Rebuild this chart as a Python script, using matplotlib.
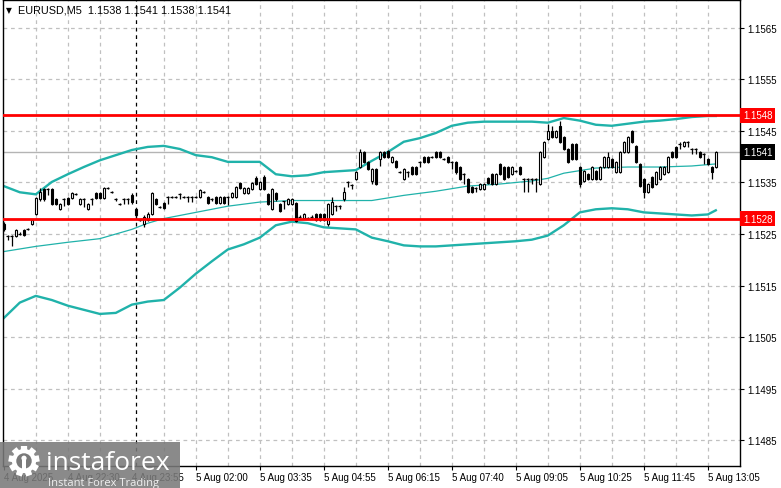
import matplotlib
matplotlib.use("Agg")
import matplotlib.pyplot as plt
import matplotlib.transforms as mtransforms
from matplotlib.patches import Rectangle, Circle
import numpy as np

# ---------------- data (EURUSD M5) ----------------
opens = [1.15269,1.15247,1.15247,1.15247,1.15251,1.15257,1.15259,1.15269,1.15288,1.15317,
         1.15337,1.15337,1.15337,1.15317,1.15298,1.15317,1.15319,1.15319,1.15327,1.15308,
         1.15317,1.15298,1.15317,1.15329,1.15329,1.15319,1.15339,1.15331,1.15317,1.15308,
         1.15317,1.15317,1.15325,1.15298,1.15278,1.15269,1.15278,1.15288,1.15317,1.15302,
         1.15310,1.15321,1.15321,1.15321,1.15327,1.15321,1.15321,1.15321,1.15321,1.15321,
         1.15331,1.15321,1.15317,1.15321,1.15310,1.15321,1.15321,1.15321,1.15321,1.15349,
         1.15329,1.15329,1.15337,1.15358,1.15337,1.15360,1.15327,1.15298,1.15329,1.15308,
         1.15314,1.15308,1.15308,1.15310,1.15284,1.15282,1.15282,1.15284,1.15288,1.15288,
         1.15288,1.15269,1.15288,1.15304,1.15304,1.15317,1.15351,1.15345,1.15356,1.15380,
         1.15409,1.15390,1.15353,1.15376,1.15395,1.15409,1.15411,1.15390,1.15392,1.15370,
         1.15356,1.15370,1.15380,1.15380,1.15390,1.15399,1.15399,1.15399,1.15409,1.15409,
         1.15395,1.15399,1.15390,1.15390,1.15380,1.15366,1.15356,1.15341,1.15339,1.15337,
         1.15337,1.15358,1.15366,1.15347,1.15386,1.15380,1.15380,1.15366,1.15372,1.15380,
         1.15356,1.15356,1.15356,1.15356,1.15347,1.15399,1.15434,1.15450,1.15438,1.15460,
         1.15438,1.15415,1.15425,1.15425,1.15380,1.15353,1.15366,1.15356,1.15372,1.15356,
         1.15380,1.15380,1.15395,1.15370,1.15370,1.15409,1.15409,1.15450,1.15421,1.15386,
         1.15356,1.15331,1.15360,1.15347,1.15356,1.15366,1.15370,1.15409,1.15419,1.15425,
         1.15421,1.15429,1.15415,1.15415,1.15409,1.15405,1.15395,1.15380,1.15380]
closes = [1.15259,1.15247,1.15247,1.15257,1.15251,1.15249,1.15259,1.15278,1.15319,1.15331,
          1.15317,1.15337,1.15308,1.15308,1.15308,1.15317,1.15308,1.15329,1.15327,1.15317,
          1.15317,1.15308,1.15317,1.15319,1.15319,1.15339,1.15339,1.15331,1.15317,1.15308,
          1.15317,1.15317,1.15312,1.15286,1.15278,1.15284,1.15288,1.15329,1.15308,1.15302,
          1.15300,1.15321,1.15321,1.15321,1.15327,1.15321,1.15321,1.15321,1.15321,1.15335,
          1.15331,1.15310,1.15317,1.15310,1.15321,1.15310,1.15321,1.15329,1.15341,1.15339,
          1.15339,1.15339,1.15349,1.15347,1.15351,1.15337,1.15308,1.15337,1.15317,1.15294,
          1.15314,1.15317,1.15317,1.15276,1.15284,1.15288,1.15282,1.15284,1.15278,1.15278,
          1.15278,1.15308,1.15312,1.15304,1.15304,1.15331,1.15351,1.15345,1.15370,1.15409,
          1.15390,1.15376,1.15376,1.15347,1.15409,1.15399,1.15399,1.15399,1.15380,1.15370,
          1.15376,1.15370,1.15366,1.15366,1.15390,1.15390,1.15390,1.15399,1.15399,1.15399,
          1.15395,1.15390,1.15390,1.15370,1.15356,1.15366,1.15331,1.15331,1.15339,1.15347,
          1.15347,1.15349,1.15347,1.15366,1.15366,1.15356,1.15360,1.15380,1.15372,1.15366,
          1.15356,1.15356,1.15356,1.15356,1.15409,1.15429,1.15450,1.15438,1.15450,1.15429,
          1.15415,1.15390,1.15395,1.15395,1.15347,1.15372,1.15356,1.15380,1.15356,1.15380,
          1.15399,1.15399,1.15380,1.15390,1.15409,1.15429,1.15438,1.15429,1.15390,1.15343,
          1.15331,1.15347,1.15341,1.15370,1.15380,1.15380,1.15399,1.15399,1.15399,1.15425,
          1.15429,1.15429,1.15415,1.15415,1.15399,1.15405,1.15386,1.15370,1.15409]
highs = [1.15273,1.15249,1.15249,1.15259,1.15253,1.15259,1.15261,1.15280,1.15321,1.15339,
         1.15339,1.15339,1.15339,1.15319,1.15310,1.15319,1.15321,1.15331,1.15329,1.15319,
         1.15319,1.15310,1.15319,1.15331,1.15331,1.15341,1.15341,1.15333,1.15319,1.15310,
         1.15319,1.15319,1.15329,1.15300,1.15280,1.15286,1.15292,1.15331,1.15319,1.15304,
         1.15312,1.15323,1.15323,1.15323,1.15329,1.15323,1.15323,1.15323,1.15323,1.15337,
         1.15333,1.15323,1.15319,1.15323,1.15323,1.15323,1.15323,1.15331,1.15343,1.15351,
         1.15341,1.15341,1.15351,1.15362,1.15353,1.15364,1.15329,1.15339,1.15331,1.15310,
         1.15315,1.15319,1.15319,1.15312,1.15286,1.15290,1.15284,1.15286,1.15290,1.15290,
         1.15290,1.15310,1.15321,1.15306,1.15306,1.15341,1.15353,1.15347,1.15372,1.15415,
         1.15411,1.15392,1.15378,1.15378,1.15411,1.15411,1.15413,1.15401,1.15393,1.15372,
         1.15378,1.15372,1.15382,1.15382,1.15392,1.15401,1.15401,1.15401,1.15411,1.15411,
         1.15397,1.15401,1.15392,1.15392,1.15382,1.15368,1.15358,1.15343,1.15341,1.15349,
         1.15349,1.15360,1.15368,1.15368,1.15388,1.15382,1.15382,1.15382,1.15374,1.15382,
         1.15358,1.15358,1.15358,1.15358,1.15411,1.15430,1.15464,1.15460,1.15452,1.15470,
         1.15440,1.15417,1.15427,1.15427,1.15382,1.15374,1.15368,1.15382,1.15374,1.15382,
         1.15401,1.15409,1.15397,1.15392,1.15411,1.15430,1.15440,1.15452,1.15423,1.15388,
         1.15358,1.15349,1.15362,1.15372,1.15382,1.15382,1.15401,1.15411,1.15421,1.15429,
         1.15430,1.15430,1.15417,1.15417,1.15411,1.15407,1.15397,1.15382,1.15411]
lows = [1.15255,1.15239,1.15226,1.15245,1.15249,1.15247,1.15257,1.15267,1.15286,1.15315,
        1.15315,1.15325,1.15306,1.15306,1.15296,1.15304,1.15306,1.15317,1.15325,1.15306,
        1.15302,1.15296,1.15306,1.15317,1.15317,1.15317,1.15337,1.15329,1.15315,1.15306,
        1.15308,1.15308,1.15308,1.15284,1.15276,1.15263,1.15276,1.15286,1.15306,1.15300,
        1.15298,1.15308,1.15319,1.15319,1.15317,1.15319,1.15312,1.15312,1.15319,1.15319,
        1.15329,1.15308,1.15315,1.15308,1.15308,1.15308,1.15306,1.15319,1.15319,1.15337,
        1.15327,1.15327,1.15335,1.15345,1.15335,1.15335,1.15306,1.15296,1.15315,1.15292,
        1.15298,1.15306,1.15306,1.15274,1.15282,1.15280,1.15280,1.15282,1.15276,1.15276,
        1.15276,1.15265,1.15286,1.15294,1.15298,1.15315,1.15341,1.15337,1.15354,1.15378,
        1.15388,1.15374,1.15347,1.15345,1.15382,1.15397,1.15397,1.15388,1.15378,1.15368,
        1.15354,1.15360,1.15364,1.15364,1.15380,1.15388,1.15388,1.15397,1.15397,1.15397,
        1.15393,1.15388,1.15376,1.15366,1.15354,1.15347,1.15329,1.15329,1.15331,1.15335,
        1.15335,1.15347,1.15345,1.15345,1.15364,1.15354,1.15358,1.15364,1.15370,1.15364,
        1.15331,1.15331,1.15347,1.15331,1.15345,1.15397,1.15432,1.15436,1.15436,1.15427,
        1.15413,1.15388,1.15393,1.15393,1.15341,1.15351,1.15354,1.15354,1.15354,1.15354,
        1.15378,1.15378,1.15378,1.15368,1.15368,1.15407,1.15407,1.15427,1.15388,1.15341,
        1.15319,1.15329,1.15339,1.15345,1.15354,1.15364,1.15368,1.15397,1.15397,1.15415,
        1.15419,1.15419,1.15405,1.15405,1.15397,1.15386,1.15384,1.15356,1.15378]

# Bollinger bands (sampled at bar indices)
bb_outer_idx = [0,4,8,12,16,20,24,28,32,36,40,44,48,52,56,60,64,68,72,76,80,84,88,92,
                96,100,104,108,112,116,120,124,128,132,136,140,144,148,152,156,160,164,
                168,172,176,178]
bb_upper = [1.15343,1.15331,1.15327,1.15351,1.15366,1.15380,1.15393,1.15403,1.15413,1.15419,
            1.15421,1.15415,1.15403,1.15399,1.15390,1.15390,1.15390,1.15366,1.15362,1.15364,
            1.15370,1.15372,1.15374,1.15392,1.15409,1.15429,1.15436,1.15446,1.15460,1.15466,
            1.15468,1.15468,1.15468,1.15468,1.15466,1.15475,1.15470,1.15462,1.15460,1.15464,
            1.15468,1.15470,1.15473,1.15477,1.15479,1.15479]
bb_lower = [1.15087,1.15117,1.15130,1.15122,1.15111,1.15103,1.15095,1.15097,1.15113,1.15119,
            1.15122,1.15146,1.15173,1.15197,1.15220,1.15230,1.15243,1.15267,1.15274,1.15271,
            1.15263,1.15261,1.15259,1.15243,1.15236,1.15228,1.15226,1.15226,1.15228,1.15230,
            1.15232,1.15234,1.15236,1.15239,1.15247,1.15267,1.15292,1.15298,1.15300,1.15298,
            1.15292,1.15290,1.15288,1.15286,1.15288,1.15296]
bb_mid_idx = [0,8,16,24,32,36,40,48,56,64,72,80,88,92,100,108,116,124,132,136,140,148,156,164,172,178]
bb_mid = [1.15216,1.15226,1.15234,1.15241,1.15259,1.15271,1.15280,1.15292,1.15304,1.15312,
          1.15315,1.15315,1.15315,1.15315,1.15325,1.15333,1.15343,1.15347,1.15353,1.15358,
          1.15368,1.15378,1.15380,1.15380,1.15382,1.15386]

levels = [1.1548, 1.1528]
price_ticks = [1.1565, 1.1555, 1.1545, 1.1535, 1.1525, 1.1515, 1.1505, 1.1495, 1.1485]
time_label_bars = [0, 16, 32, 48, 64, 80, 96, 112, 128, 144, 160, 176]
time_labels = ["4 Aug 2025", "4 Aug 22:30", "4 Aug 23:55", "5 Aug 02:00", "5 Aug 03:35",
               "5 Aug 04:55", "5 Aug 06:15", "5 Aug 07:40", "5 Aug 09:05", "5 Aug 10:25",
               "5 Aug 11:45", "5 Aug 13:05"]
day_separator_bar = 33
header = "EURUSD,M5  1.1538 1.1541 1.1538 1.1541"

# ---------------- figure ----------------
W, H = 781, 489
fig = plt.figure(figsize=(W / 100, H / 100), dpi=100)
fig.patch.set_facecolor("white")
ax = fig.add_axes([3 / W, 1 - 467 / H, 737 / W, 466 / H])
ax.set_facecolor("white")
ax.set_xlim(-0.2, -0.2 + 737 / 4)
ax.set_ylim(1.14800, 1.15704)

grid_col = "#C0C0C0"
for p in price_ticks:
    ax.axhline(p, color=grid_col, lw=0.9, ls=(0, (3, 3)), zorder=0)
for b in range(8, 184, 8):
    if b != 32:
        ax.axvline(b, color=grid_col, lw=0.9, ls=(0, (3, 3)), zorder=0)
ax.axvline(day_separator_bar, color="black", lw=0.9, ls=(0, (3, 3)), zorder=1)

o = np.array(opens); c = np.array(closes)
h = np.array(highs); l = np.array(lows)
idx = np.arange(len(o))

# bid line
ax.axhline(c[-1], color="#B4B4B4", lw=1.0, zorder=1)

# Bollinger bands
teal = "#20B2AA"
ax.plot(bb_outer_idx, bb_upper, color=teal, lw=1.7, zorder=2)
ax.plot(bb_outer_idx, bb_lower, color=teal, lw=1.7, zorder=2)
ax.plot(bb_mid_idx, bb_mid, color=teal, lw=0.9, zorder=2)

# candles
ax.vlines(idx, l, h, color="black", lw=0.9, zorder=3)
up = c > o
dn = c < o
dj = c == o
ax.bar(idx[up], (c - o)[up], bottom=o[up], width=0.62, color="white",
       edgecolor="black", lw=0.8, zorder=4)
ax.bar(idx[dn], (o - c)[dn], bottom=c[dn], width=0.62, color="black",
       edgecolor="black", lw=0.8, zorder=4)
ax.hlines(o[dj], idx[dj] - 0.4, idx[dj] + 0.4, color="black", lw=0.9, zorder=4)

# support / resistance lines
for lv in levels:
    ax.axhline(lv, color="#FF0000", lw=2.0, zorder=5)

# axes styling
for s in ["left", "bottom", "right", "top"]:
    ax.spines[s].set_color("black")
    ax.spines[s].set_linewidth(1.0)

ax.yaxis.tick_right()
ax.set_yticks(price_ticks)
ax.set_yticklabels([f"{p:.4f}" for p in price_ticks])
ax.tick_params(axis="y", length=3, width=0.8, pad=2, labelsize=7,
               colors="black", labelfontfamily="Liberation Sans")
ax.set_xticks(time_label_bars)
ax.set_xticklabels(time_labels)
ax.tick_params(axis="x", length=3, width=0.8, pad=1.5, labelsize=7,
               colors="black", labelfontfamily="Liberation Sans")
for lbl in ax.get_xticklabels():
    lbl.set_ha("left")

# right-side price boxes
trans = mtransforms.blended_transform_factory(ax.transAxes, ax.transData)
for lv in levels:
    ax.text(1.0 + 3 / 737, lv, f"{lv:.4f}", transform=trans, ha="left", va="center",
            color="white", fontsize=7, family="Liberation Sans", zorder=10,
            bbox=dict(boxstyle="square,pad=0.3", facecolor="#FF0000", edgecolor="none"),
            clip_on=False)
ax.text(1.0 + 3 / 737, c[-1], f"{c[-1]:.4f}", transform=trans, ha="left", va="center",
        color="white", fontsize=7, family="Liberation Sans", zorder=10,
        bbox=dict(boxstyle="square,pad=0.3", facecolor="black", edgecolor="none"),
        clip_on=False)

# header
fig.text(6 / W, 1 - 10.5 / H, "\u25bc", fontsize=5.5, va="center", ha="left", color="black")
fig.text(18 / W, 1 - 10.5 / H, header, fontsize=7.8, va="center", ha="left",
         color="black", family="Liberation Sans")

# watermark
fig.add_artist(Rectangle((0, 0), 180 / W, 46 / H, transform=fig.transFigure,
                         facecolor="#7a7a7a", edgecolor="none", alpha=0.88, zorder=20))
lax = fig.add_axes([6 / W, 1 - 479 / H, 36 / W, 34 / H], zorder=21)
lax.set_xlim(-1.1, 1.1); lax.set_ylim(-1.1, 1.1)
lax.set_aspect("equal"); lax.axis("off")
for k in range(9):
    a = np.pi / 2 + k * 2 * np.pi / 9
    lax.plot([0.55 * np.cos(a), 1.0 * np.cos(a)], [0.55 * np.sin(a), 1.0 * np.sin(a)],
             color="white", lw=4.5, solid_capstyle="butt")
lax.add_patch(Circle((0, 0), 0.78, facecolor="white", edgecolor="none"))
lax.add_patch(Circle((0, 0), 0.5, facecolor="#7a7a7a", edgecolor="none"))
lax.add_patch(Circle((0, 0.18), 0.17, facecolor="white", edgecolor="none"))
lax.add_patch(Rectangle((-0.1, -0.6), 0.2, 0.65, facecolor="white", edgecolor="none"))
fig.text(46 / W, 1 - 470 / H, "instaforex", fontsize=19, color="white",
         family="Open Sans", va="baseline", ha="left", zorder=22)
fig.text(48 / W, 1 - 486.5 / H, "Instant Forex Trading", fontsize=8, color="#f0f0f0",
         family="Open Sans", va="baseline", ha="left", zorder=22)

fig.savefig("out.png", dpi=100, facecolor="white")
